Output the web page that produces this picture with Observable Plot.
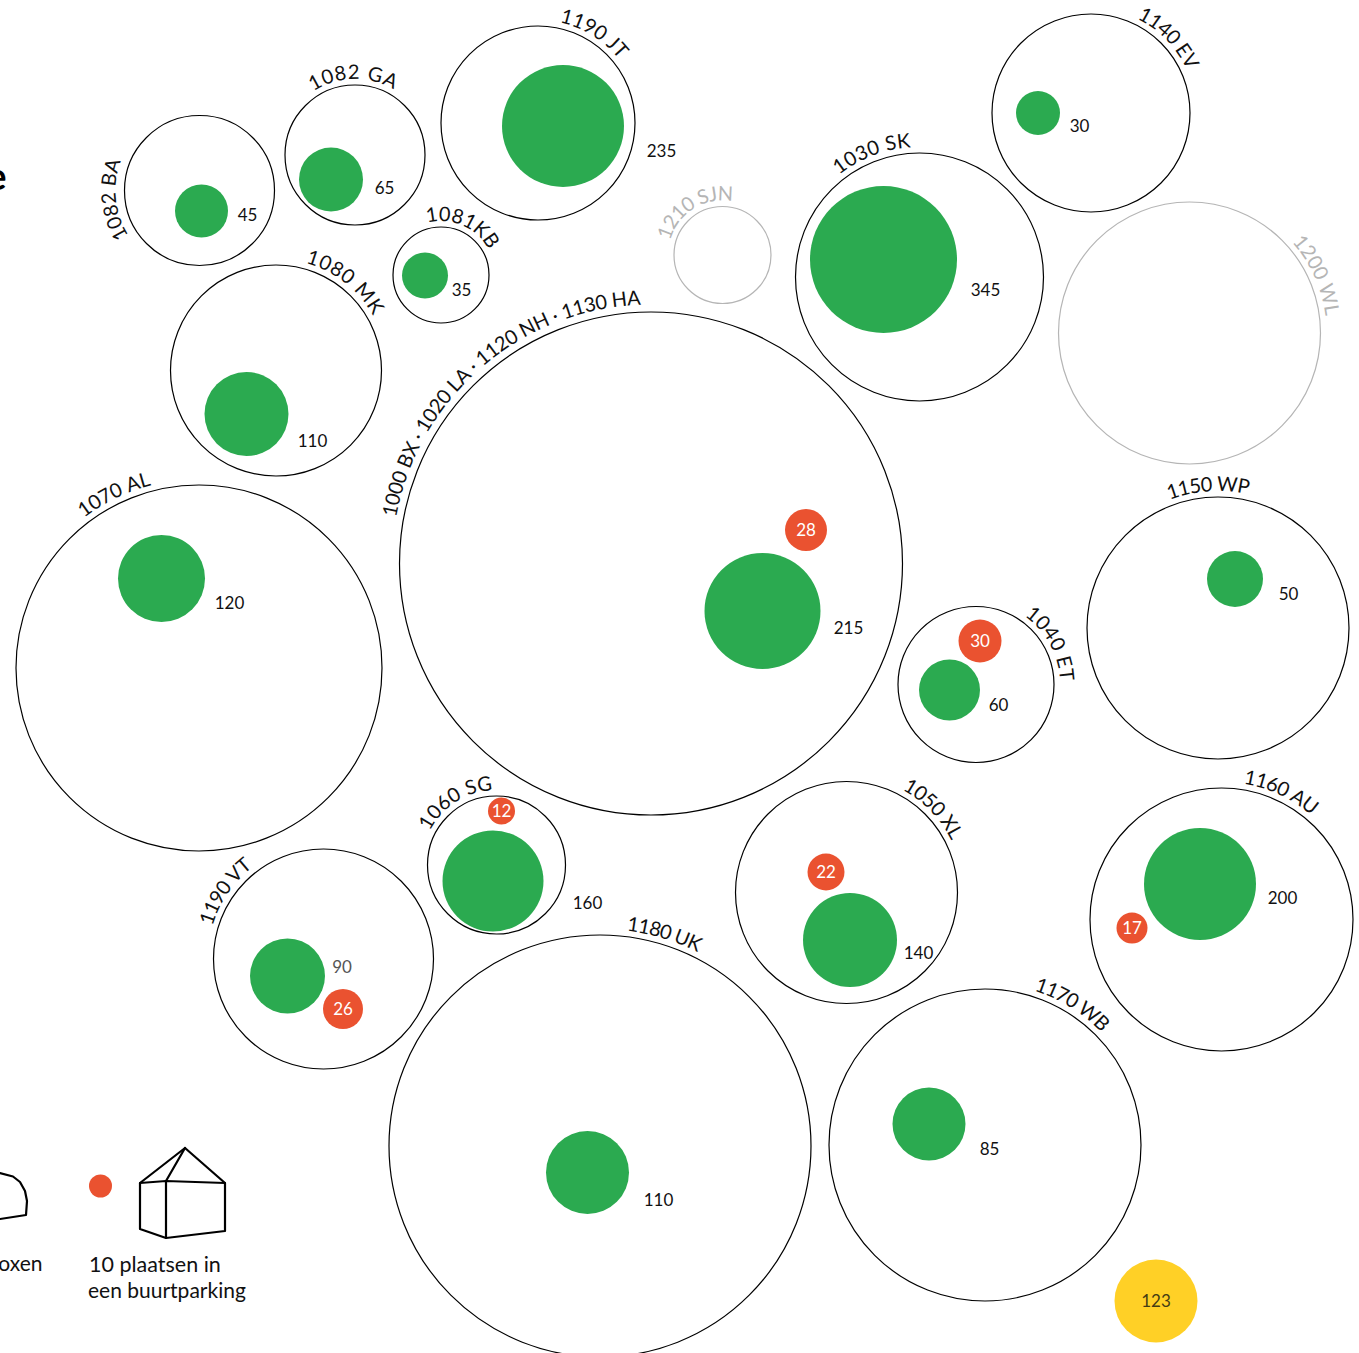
<!DOCTYPE html>
<html><head><meta charset="utf-8">
<script src="https://cdn.jsdelivr.net/npm/d3@7"></script>
<script src="https://cdn.jsdelivr.net/npm/@observablehq/plot@0.6"></script>
<style>html,body{margin:0;padding:0;background:#fff}svg{display:block}</style>
</head><body><div id="chart"></div>
<script>
// Area outlines: label, centre, radius, label angle (degrees clockwise from top), tracking, gap
const areaNames = ["1082 BA","1082 GA","1190 JT","1081KB","1080 MK","1210 SJN","1030 SK","1140 EV","1200 WL","1000 BX · 1020 LA · 1120 NH · 1130 HA","1070 AL","1150 WP","1040 ET","1060 SG","1050 XL","1160 AU","1190 VT","1180 UK","1170 WB"];
const areaX = [199.5,355,538,441,276,722.5,919.5,1091,1189.5,651,199,1218,976,496.5,846.5,1221.5,323.5,600,985];
const areaY = [190.5,155,123,275,370.5,255,277,113,333,563.5,668,628,684.5,865,892.5,919.5,959,1146,1145];
const areaR = [75,70,97,48,105.5,48.5,124,99,131,251.5,183,131,78,69,111,131.5,110,211,156];
const areaAngle = [-96,-1.4,32,23.6,37.9,-32,-21,46,65.7,-41,-26,-4,61.5,-33,46,25,-55.5,16.9,31.8];
const areaTrack = [0,0.8,0,0,0.8,-0.7,0.4,-0.5,0,-0.3,0,-0.7,0.4,0.3,-0.5,-0.6,-0.7,-0.8,-0.8];
const areaGap = [9,6,6,6,6,6,6,6,6,7.5,6,6,6,6,6,6,6,6,6];
const areaMuted = ["1210 SJN","1200 WL"];
// Green circles and their values
const greenValues = [45,65,235,35,110,345,30,215,120,50,60,160,140,200,90,110,85];
const greenX = [201.5,331,563,425,246.5,883.5,1038,762.5,161.5,1235,949.5,493,850,1200,287.5,587.5,929];
const greenY = [211,179.5,126,275.5,414,259.5,113,611,578.5,579,690,881,940,884,976,1172.5,1124];
const greenR = [26.5,32,61,23,42,73.5,22,58,43.5,28,30.5,50.5,47,56,37.5,41.5,36.5];
const labelX = [247.5,384.5,661.5,461.5,312.5,985.5,1079.5,848.5,229.5,1288.5,998.5,587.5,918.5,1282.5,342,658.5,989.5];
const labelY = [216,189,152,291,442,291,127,629,604,595,706,904,954,899,968,1201,1150];
// Red circles
const redValues = [28,30,12,22,17,26];
const redX = [806,980,501.5,826,1132,343];
const redY = [530,641,811,872,928,1009];
const redR = [21,21.5,13.5,18.5,15.5,20];
// Yellow circle
const yellow = {value:123,x:1156,y:1301,r:41.5};
// Legend
const legendDot = {x:100.5,y:1186,r:11.5};
const houseBox = [[140,1183],[166,1181],[225,1183],[225,1231],[166,1238],[140,1229],[140,1183]];
const houseMid = [[166,1181],[166,1238]];
const houseRoof = [[140,1183],[185,1148],[225,1183]];
const houseRidge = [[166,1181],[185,1148]];
const boxArc = [[0,1173],[13,1176.5],[20,1182],[25,1191],[27,1201],[26,1215],[0,1219]];

const FONT = "Lato";
const arcSize = 20;
const ctx = document.createElement("canvas").getContext("2d");
ctx.font = `${arcSize}px ${FONT}`;
function arcChars(i){
  const s = areaNames[i], track = areaTrack[i], R = areaR[i] + areaGap[i];
  const adv = [...s].map(c => ctx.measureText(c).width + track);
  const total = d3.sum(adv);
  let pos = -total/2;
  return [...s].map((c,k)=>{
    const mid = pos + adv[k]/2; pos += adv[k];
    const a = areaAngle[i] + mid/R*180/Math.PI, t = a*Math.PI/180;
    return {c, x: areaX[i]+R*Math.sin(t), y: areaY[i]-R*Math.cos(t), a, muted: areaMuted.includes(s)};
  });
}
const chars = areaNames.flatMap((_,i)=>arcChars(i));
const areas = areaNames.map((n,i)=>({n,x:areaX[i],y:areaY[i],r:areaR[i]}));
const greens = greenValues.map((v,i)=>({v,x:greenX[i],y:greenY[i],r:greenR[i],lx:labelX[i],ly:labelY[i]}));
const reds = redValues.map((v,i)=>({v,x:redX[i],y:redY[i],r:redR[i]}));
const X=d=>d[0],Y=d=>d[1];
const ln = (pts,w=2.2)=>Plot.line(pts,{x:X,y:Y,stroke:"#000",strokeWidth:w,strokeLinejoin:"round"});

const plot = Plot.plot({
  width:1359,height:1353,margin:0,
  style:{fontFamily:FONT,background:"#fff"},
  x:{domain:[0,1359],range:[-0.5,1358.5],axis:null},
  y:{domain:[0,1353],range:[-0.5,1352.5],axis:null},
  r:{type:"linear",domain:[0,300],range:[0,300]},
  marks:[
    Plot.dot(areas,{x:"x",y:"y",r:"r",fill:"none",strokeWidth:1.2,stroke:d=>areaMuted.includes(d.n)?"#b5b5b5":"#000"}),
    Plot.dot(greens,{x:"x",y:"y",r:"r",fill:"#2baa50"}),
    Plot.dot(reds,{x:"x",y:"y",r:"r",fill:"#ea5230"}),
    Plot.dot([yellow],{x:"x",y:"y",r:"r",fill:"#ffd026"}),
    Plot.dot([legendDot],{x:"x",y:"y",r:"r",fill:"#ea5230"}),
    Plot.text(chars,{x:"x",y:"y",text:"c",rotate:"a",lineAnchor:"bottom",textAnchor:"middle",fontSize:arcSize,fill:d=>d.muted?"#b5b5b5":"#111"}),
    Plot.text(greens,{x:"lx",y:"ly",text:d=>String(d.v),fontSize:17,fill:d=>d.v===90?"#555":"#111"}),
    Plot.text(reds,{x:"x",y:d=>d.y+1,text:d=>String(d.v),fontSize:17,fill:"#fff"}),
    Plot.text([yellow],{x:"x",y:d=>d.y+1,text:d=>String(d.value),fontSize:17,fill:"#443c14"}),
    ln(houseBox),ln(houseMid),ln(houseRoof),ln(houseRidge),ln(boxArc),
    Plot.text(["10 plaatsen in"],{x:[89],y:[1271.5],text:d=>d,textAnchor:"start",lineAnchor:"bottom",fontSize:21.5,fill:"#111"}),
    Plot.text(["een buurtparking"],{x:[88],y:[1297.5],text:d=>d,textAnchor:"start",lineAnchor:"bottom",fontSize:21,fill:"#111"}),
    Plot.text(["oxen"],{x:[42.5],y:[1270.5],text:d=>d,textAnchor:"end",lineAnchor:"bottom",fontSize:21,fill:"#111"}),
    Plot.text(["e"],{x:[6.5],y:[189.5],text:d=>d,textAnchor:"end",lineAnchor:"bottom",fontSize:38,fontWeight:700,fill:"#000"})
  ]
});
document.getElementById("chart").append(plot);
</script></body></html>
